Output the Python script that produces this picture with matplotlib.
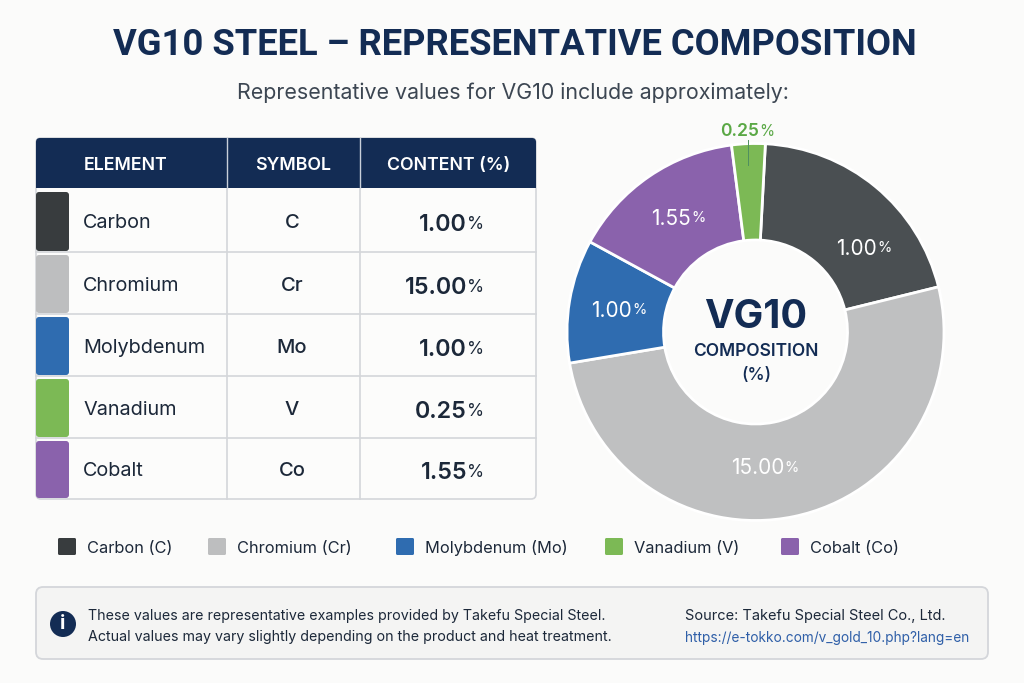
import matplotlib
matplotlib.use('Agg')
import matplotlib.pyplot as plt
from matplotlib.patches import Rectangle, FancyBboxPatch, Circle

plt.rcParams['font.family'] = ['Inter', 'DejaVu Sans']

# table data
elements = ['Carbon', 'Chromium', 'Molybdenum', 'Vanadium', 'Cobalt']
symbols = ['C', 'Cr', 'Mo', 'V', 'Co']
contents = ['1.00', '15.00', '1.00', '0.25', '1.55']
headers = ['ELEMENT', 'SYMBOL', 'CONTENT (%)']

# slice sizes as drawn in the picture (degrees), they do not follow the table
drawn_sizes = [73, 184, 38, 10.3, 54]

swatch_colors = ['#383c3e', '#bdbebf', '#2f6cb0', '#7cb955', '#8a62ac']
pie_colors = ['#4a4f52', '#bfc0c1', '#2f6cb0', '#7cb955', '#8a62ac']
legend_labels = ['Carbon (C)', 'Chromium (Cr)', 'Molybdenum (Mo)', 'Vanadium (V)', 'Cobalt (Co)']

navy = '#132c54'
dark = '#1c2839'
bg = '#fbfbfa'
line = '#d4d6da'

fig = plt.figure(figsize=(10.24, 6.83), dpi=100, facecolor=bg)

# whole figure axes in pixels, y going down
ax = fig.add_axes([0, 0, 1, 1])
ax.set_xlim(0, 1024)
ax.set_ylim(683, 0)
ax.axis('off')


def pct_text(x, y, num, size, color, weight='normal', pct_size=None):
    # number and small % sign meet at x
    ax.text(x, y, num, ha='right', va='center_baseline', fontsize=size, color=color, fontweight=weight, zorder=6)
    ax.text(x, y, '%', ha='left', va='center_baseline', fontsize=pct_size or size * 0.72, color=color,
            fontweight='normal', zorder=6)


# title
ax.text(515, 45, 'VG10 STEEL – REPRESENTATIVE COMPOSITION', ha='center', va='center', fontsize=26.2,
        fontweight='bold', color=navy, family=['Roboto', 'DejaVu Sans'])
ax.text(513, 93, 'Representative values for VG10 include approximately:', ha='center', va='center',
        fontsize=15.4, color='#3c4652')

# table
col_edges = [36, 227, 360, 536]
row_edges = [189, 252, 314, 376, 438, 499]
head_x = [126, 293, 449]

ax.add_patch(FancyBboxPatch((36, 138), 500, 361, boxstyle='round,pad=0,rounding_size=5',
                            fc='#fcfcfb', ec=line, lw=1.2, zorder=1))
ax.add_patch(FancyBboxPatch((36, 138), 500, 50, boxstyle='round,pad=0,rounding_size=4',
                            fc=navy, ec='none', zorder=2))
ax.add_patch(Rectangle((36, 160), 500, 28, fc=navy, ec='none', zorder=2))
for x in col_edges[1:3]:
    ax.plot([x, x], [138, 188], color='#c9d0da', lw=1, zorder=3)
    ax.plot([x, x], [189, 499], color=line, lw=1.2, zorder=3)
for y in row_edges[1:5]:
    ax.plot([36, 536], [y, y], color=line, lw=1.2, zorder=3)
for name, x in zip(headers, head_x):
    ax.text(x, 164, name, ha='center', va='center_baseline', fontsize=12.8, fontweight='semibold', color='white', zorder=4)

for i in range(5):
    top = row_edges[i] + 3
    bottom = row_edges[i + 1] - 1
    mid = (row_edges[i] + row_edges[i + 1]) / 2
    ax.add_patch(FancyBboxPatch((36, top), 33, bottom - top, boxstyle='round,pad=0,rounding_size=3',
                                fc=swatch_colors[i], ec='none', zorder=4))
    ax.text(83, mid + 1, elements[i], ha='left', va='center_baseline', fontsize=14.3, color=dark, zorder=4)
    ax.text(292, mid + 1, symbols[i], ha='center', va='center_baseline', fontsize=14.5, fontweight='medium', color=dark, zorder=4)
    pct_text(467, mid + 2, contents[i], 16.8, dark, weight='semibold', pct_size=12.5)

# donut
pie_ax = fig.add_axes([567 / 1024, 1 - 520.5 / 683, 377 / 1024, 377 / 683])
order = [0, 1, 2, 4, 3]
pie_ax.pie([drawn_sizes[i] for i in order], colors=[pie_colors[i] for i in order], startangle=87,
           counterclock=False, radius=1, wedgeprops={'width': 0.512, 'edgecolor': 'white', 'linewidth': 2})
pie_ax.set_xlim(-1, 1)
pie_ax.set_ylim(-1, 1)

# labels go above the donut
ax.set_zorder(5)
ax.patch.set_alpha(0)

pct_text(877, 247, contents[0], 15, 'white', pct_size=10.5)
pct_text(784, 466, contents[1], 15, 'white', pct_size=10.5)
pct_text(632, 309, contents[2], 15, 'white', pct_size=10.5)
pct_text(691, 217, contents[4], 15, 'white', pct_size=10.5)
pct_text(759, 130, contents[3], 12.6, '#5aa845', weight='semibold', pct_size=11)
ax.plot([747.5, 747.5], [140, 165], color='#4f8f60', lw=0.7, zorder=6)

ax.text(756, 318, 'VG10', ha='center', va='center', fontsize=28.5, fontweight='bold', color=navy, zorder=6)
ax.text(756, 351, 'COMPOSITION', ha='center', va='center', fontsize=12.5, fontweight='semibold', color=navy, zorder=6)
ax.text(756, 375, '(%)', ha='center', va='center', fontsize=12.5, fontweight='medium', color=navy, zorder=6)

# legend row
legend_x = [58, 208, 396, 605, 781]
for i, label in enumerate(legend_labels):
    ax.add_patch(FancyBboxPatch((legend_x[i], 538), 18, 17, boxstyle='round,pad=0,rounding_size=1.5',
                                fc=swatch_colors[i], ec='none'))
    ax.text(legend_x[i] + 29, 547, label, ha='left', va='center_baseline', fontsize=11.8, color=dark)

# note box
ax.add_patch(FancyBboxPatch((36, 587), 952, 72, boxstyle='round,pad=0,rounding_size=7',
                            fc='#f4f4f3', ec=line, lw=1.3))
ax.add_patch(Circle((63, 624), 13, fc=navy, ec='none'))
ax.text(63, 624, 'i', ha='center', va='center', fontsize=14, fontweight='bold', color='white')
ax.text(88, 616, 'These values are representative examples provided by Takefu Special Steel.', ha='left',
        va='center', fontsize=10.25, color=dark)
ax.text(88, 637, 'Actual values may vary slightly depending on the product and heat treatment.', ha='left',
        va='center', fontsize=10.25, color=dark)
ax.text(685, 616, 'Source: Takefu Special Steel Co., Ltd.', ha='left', va='center', fontsize=10.5, color=dark)
ax.text(685, 638, 'https://e-tokko.com/v_gold_10.php?lang=en', ha='left', va='center', fontsize=9.85, color='#2f5fa8')

fig.savefig('out.png', dpi=100, facecolor=bg)
